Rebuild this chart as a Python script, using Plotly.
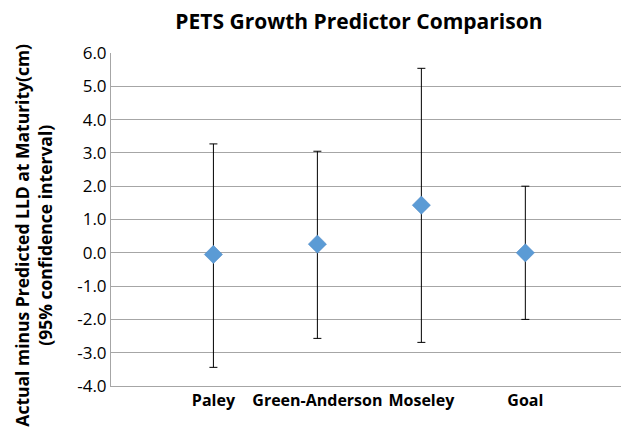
import plotly.graph_objects as go

categories = ["Paley", "Green-Anderson", "Moseley", "Goal"]
means = [-0.05, 0.26, 1.43, 0.0]
upper = [3.27, 3.05, 5.54, 2.0]
lower = [-3.44, -2.57, -2.69, -2.0]
y_ticks = [6.0, 5.0, 4.0, 3.0, 2.0, 1.0, 0.0, -1.0, -2.0, -3.0, -4.0]

err_plus = [u - m for u, m in zip(upper, means)]
err_minus = [m - l for m, l in zip(means, lower)]

FONT = "Open Sans"

fig = go.Figure()
fig.add_trace(go.Scatter(
    x=categories, y=means, mode="markers",
    marker=dict(symbol="diamond", size=14, color="#5b9bd5",
                line=dict(width=0.5, color="#4a86c5")),
    error_y=dict(type="data", symmetric=False, array=err_plus, arrayminus=err_minus,
                 color="#000000", thickness=1, width=4),
    showlegend=False,
))

fig.update_layout(
    width=622, height=431,
    margin=dict(l=111, r=1, t=53, b=45),
    paper_bgcolor="white", plot_bgcolor="white",
    title=dict(text="<b>PETS Growth Predictor Comparison</b>",
               font=dict(family=FONT, size=21, color="#000000"),
               x=0.577, xanchor="center", y=0.949, yanchor="middle"),
    xaxis=dict(range=[-0.985, 3.92], showgrid=False, showline=True,
               linecolor="#a6a6a6", linewidth=1, ticks="", tickangle=0,
               tickfont=dict(family=FONT, size=16, color="#000000"),
               tickprefix="<b>", ticksuffix="</b>", automargin=False),
    yaxis=dict(range=[-4.0, 6.0], tickvals=y_ticks,
               ticktext=[f"{v:.1f}" for v in y_ticks],
               showgrid=True, gridcolor="#a6a6a6", gridwidth=1,
               showline=True, linecolor="#a6a6a6", linewidth=1,
               zeroline=False, ticks="", automargin=False,
               tickfont=dict(family=FONT, size=17, color="#000000")),
    annotations=[dict(
        text="<b>Actual minus Predicted LLD at Maturity(cm)<br>(95% confidence interval)</b>",
        textangle=-90, xref="paper", yref="paper", x=-0.152, y=0.453,
        xanchor="center", yanchor="middle", showarrow=False,
        font=dict(family=FONT, size=17.5, color="#000000"))],
)

fig.write_html("out.html", config={"displayModeBar": False},
               post_script="document.body.style.margin='0';document.body.style.overflow='hidden';")
